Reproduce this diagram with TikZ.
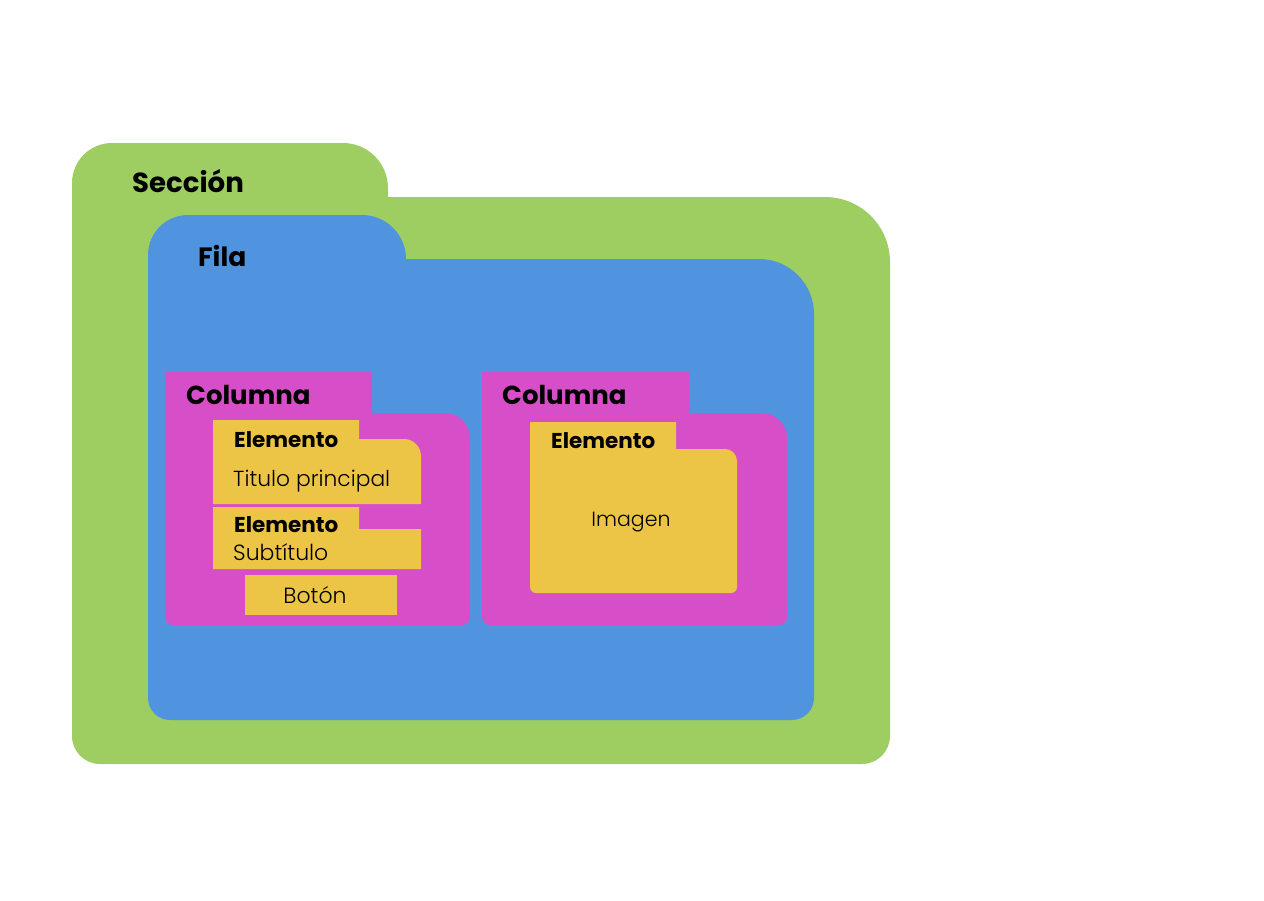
\documentclass[tikz,border=0pt]{standalone}
\usepackage{fontspec}
\setmainfont{Poppins}
\newfontfamily\lightfont{Poppins}[UprightFont=* Light]
\definecolor{secgreen}{RGB}{158,206,98}
\definecolor{filablue}{RGB}{80,148,223}
\definecolor{colmag}{RGB}{215,79,200}
\definecolor{elemyel}{RGB}{236,197,71}
\tikzset{
  title/.style={anchor=base west, inner sep=0pt, font=\bfseries\fontsize{#1}{#1}\selectfont},
  body/.style={anchor=base, inner sep=0pt, font=\lightfont\fontsize{#1}{#1}\selectfont},
  bodyw/.style={anchor=base west, inner sep=0pt, font=\lightfont\fontsize{#1}{#1}\selectfont},
}
\begin{document}
\begin{tikzpicture}[x=1pt,y=-1pt]
\useasboundingbox (0,0) rectangle (1264,900);
% Seccion
\fill[secgreen] (72,183) arc[start angle=180,end angle=270,radius=40] -- (343,143)
  arc[start angle=-90,end angle=0,radius=45] -- (388,197) -- (825,197)
  arc[start angle=-90,end angle=0,radius=65] -- (890,736)
  arc[start angle=0,end angle=90,radius=28] -- (100,764)
  arc[start angle=90,end angle=180,radius=28] -- cycle;
% Fila
\fill[filablue] (148,255) arc[start angle=180,end angle=270,radius=40] -- (362,215)
  arc[start angle=-90,end angle=0,radius=44] -- (406,259) -- (759,259)
  arc[start angle=-90,end angle=0,radius=55] -- (814,698)
  arc[start angle=0,end angle=90,radius=22] -- (170,720)
  arc[start angle=90,end angle=180,radius=22] -- cycle;
% Columnas
\foreach \dx in {0,317}{
\fill[colmag,xshift=\dx] (165,372) -- (372,372) -- (372,413) -- (445,413)
  arc[start angle=-90,end angle=0,radius=25] -- (470,617)
  arc[start angle=0,end angle=90,radius=8] -- (173,625)
  arc[start angle=90,end angle=180,radius=8] -- cycle;
}
% Elementos
\fill[elemyel] (213,420) -- (359,420) -- (359,439) -- (404,439)
  arc[start angle=-90,end angle=0,radius=17] -- (421,504) -- (213,504) -- cycle;
\fill[elemyel] (213,507) -- (359,507) -- (359,529) -- (421,529) -- (421,569) -- (213,569) -- cycle;
\fill[elemyel] (245,575) rectangle (397,615);
\fill[elemyel] (530,422) -- (676,422) -- (676,449) -- (725,449)
  arc[start angle=-90,end angle=0,radius=12] -- (737,587)
  arc[start angle=0,end angle=90,radius=6] -- (536,593)
  arc[start angle=90,end angle=180,radius=6] -- cycle;
% Labels
\node[title=27.6] (seccion) at (132,192) {Sección};
\node[title=26.5] (fila) at (198,266) {Fila};
\node[title=26] (col1) at (186,404) {Columna};
\node[title=26] (col2) at (502,404) {Columna};
\node[title=21.5] (el1) at (234,447) {Elemento};
\node[title=21.5] (el2) at (234,532) {Elemento};
\node[title=21.5] (el3) at (551,448) {Elemento};
\node[bodyw=21.8] (tit) at (233,486) {Titulo principal};
\node[bodyw=22] (sub) at (233,560) {Subtítulo};
\node[body=22] (boton) at (315,603) {Botón};
\node[body=20.5] (imagen) at (631,526) {Imagen};
\end{tikzpicture}
\end{document}
